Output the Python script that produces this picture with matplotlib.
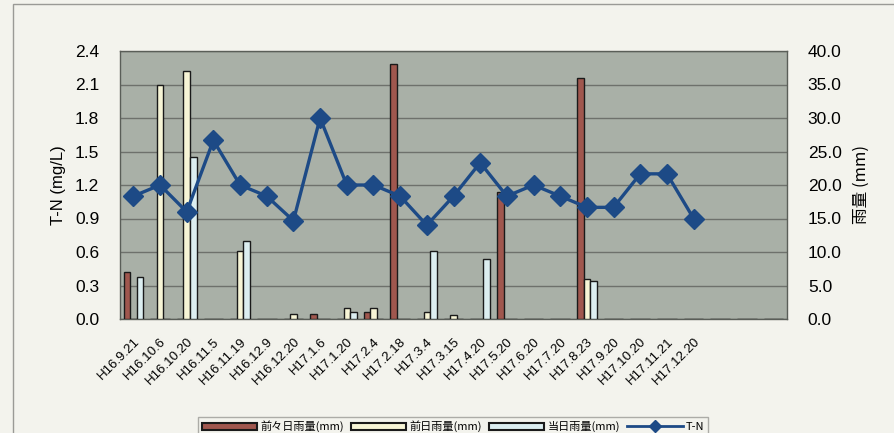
import matplotlib
matplotlib.use("Agg")
import matplotlib.pyplot as plt
import numpy as np
from matplotlib.patches import Rectangle, Patch
from matplotlib.lines import Line2D

plt.rcParams['font.family'] = ['Liberation Sans', 'Noto Sans CJK JP', 'DejaVu Sans']

categories = ["H16.9.21", "H16.10.6", "H16.10.20", "H16.11.5", "H16.11.19", "H16.12.9",
              "H16.12.20", "H17.1.6", "H17.1.20", "H17.2.4", "H17.2.18", "H17.3.4",
              "H17.3.15", "H17.4.20", "H17.5.20", "H17.6.20", "H17.7.20", "H17.8.23",
              "H17.9.20", "H17.10.20", "H17.11.21", "H17.12.20", "", "", ""]

rain_2days_before = [7.0, 0, 0, 0, 0, 0, 0, 0.7, 0, 1.0, 38.0, 0, 0, 0, 19.0, 0, 0, 36.0,
                     0, 0, 0, 0, 0, 0, 0]
rain_day_before = [0, 35.0, 37.0, 0, 10.2, 0, 0.7, 0, 1.6, 1.6, 0, 1.1, 0.6, 0, 0, 0, 0, 6.0,
                   0, 0, 0, 0, 0, 0, 0]
rain_same_day = [6.2, 0, 24.2, 0, 11.6, 0, 0, 0, 1.1, 0, 0, 10.1, 0, 9.0, 0, 0, 0, 5.6,
                 0, 0, 0, 0, 0, 0, 0]
tn = [1.1, 1.2, 0.96, 1.6, 1.2, 1.1, 0.88, 1.8, 1.2, 1.2, 1.1, 0.84, 1.1, 1.4, 1.1, 1.2,
      1.1, 1.0, 1.0, 1.3, 1.3, 0.9]

W, H = 894, 433
fig = plt.figure(figsize=(W / 100, H / 100), dpi=100)
fig.patch.set_facecolor('#f3f3ed')

# outer chart frame
fig.patches.append(Rectangle((13 / W, -0.2), 1.2, 1.2 - 4 / H, transform=fig.transFigure,
                             fill=False, edgecolor='#9a9a96', linewidth=1.0))

ax = fig.add_axes([120 / W, 1 - 319 / H, 667 / W, 268 / H])
ax2 = ax.twinx()
ax.set_facecolor('#a9b0a7')
n = len(categories)
x = np.arange(n)
bw = 0.245
ax.bar(x - bw, rain_2days_before, bw, color='#a0574e', edgecolor='#1a1a1a', linewidth=1.0,
       zorder=3)
ax.bar(x, rain_day_before, bw, color='#f7f5d6', edgecolor='#1a1a1a', linewidth=1.0,
       zorder=3)
ax.bar(x + bw, rain_same_day, bw, color='#dceef0', edgecolor='#1a1a1a', linewidth=1.0,
       zorder=3)
ax.set_xlim(-0.5, n - 0.5)
ax.set_ylim(0, 40)
rt = np.arange(0, 40.1, 5)
ax.set_yticks(rt)
ax.set_yticklabels([f"{v:.1f}" for v in rt])
ax.yaxis.tick_right()
ax.yaxis.set_label_position('right')
ax.set_ylabel('雨量 (mm)', fontsize=12, labelpad=8, family=['Noto Sans CJK JP'])
ax.grid(axis='y', color='#6e716c', linewidth=1.0, zorder=1)
ax.set_axisbelow(True)
ax.set_xticks(x)
ax.set_xticklabels(categories, rotation=45, ha='right', rotation_mode='anchor', fontsize=9.5)
ax.tick_params(axis='x', length=0, pad=12)
ax.tick_params(axis='y', length=0, pad=15, labelsize=12.5)
for s in ax.spines.values():
    s.set_color('#5a5e58')
    s.set_linestyle((0, (2, 1)))
    s.set_linewidth(1.0)

ax2.plot(np.arange(len(tn)), tn, color='#1d4a86', linewidth=2.4, marker='D', markersize=10,
         markerfacecolor='#1d4a86', markeredgecolor='#1d4a86', zorder=5)
ax2.set_ylim(0, 2.4)
lt = np.arange(0, 2.41, 0.3)
ax2.set_yticks(lt)
ax2.set_yticklabels([f"{v:.1f}" for v in lt])
ax2.yaxis.tick_left()
ax2.yaxis.set_label_position('left')
ax2.set_ylabel('T-N (mg/L)', fontsize=12, labelpad=6)
ax2.tick_params(axis='y', length=0, pad=15, labelsize=12.5)
for s in ax2.spines.values():
    s.set_visible(False)

handles = [Patch(facecolor='#a0574e', edgecolor='#1a1a1a', linewidth=1.5),
           Patch(facecolor='#f7f5d6', edgecolor='#1a1a1a', linewidth=1.5),
           Patch(facecolor='#dceef0', edgecolor='#1a1a1a', linewidth=1.5),
           Line2D([], [], color='#1d4a86', linewidth=2, marker='D', markersize=6)]
labels = ['前々日雨量(mm)', '前日雨量(mm)', '当日雨量(mm)', 'T-N']
leg = fig.legend(handles, labels, loc='upper center', bbox_to_anchor=(453 / W, 1 - 411 / H),
                 ncol=4, frameon=True, fancybox=False, handlelength=5.0,
                 handleheight=0.6, handletextpad=0.3, columnspacing=0.6, borderpad=0.35,
                 prop={'family': ['Noto Sans CJK JP'], 'size': 8.0})
leg.get_frame().set_edgecolor('#9a9a96')
leg.get_frame().set_facecolor('#f3f3ed')
leg.get_frame().set_linewidth(1.0)

fig.savefig('out.png', dpi=100, facecolor=fig.get_facecolor())
